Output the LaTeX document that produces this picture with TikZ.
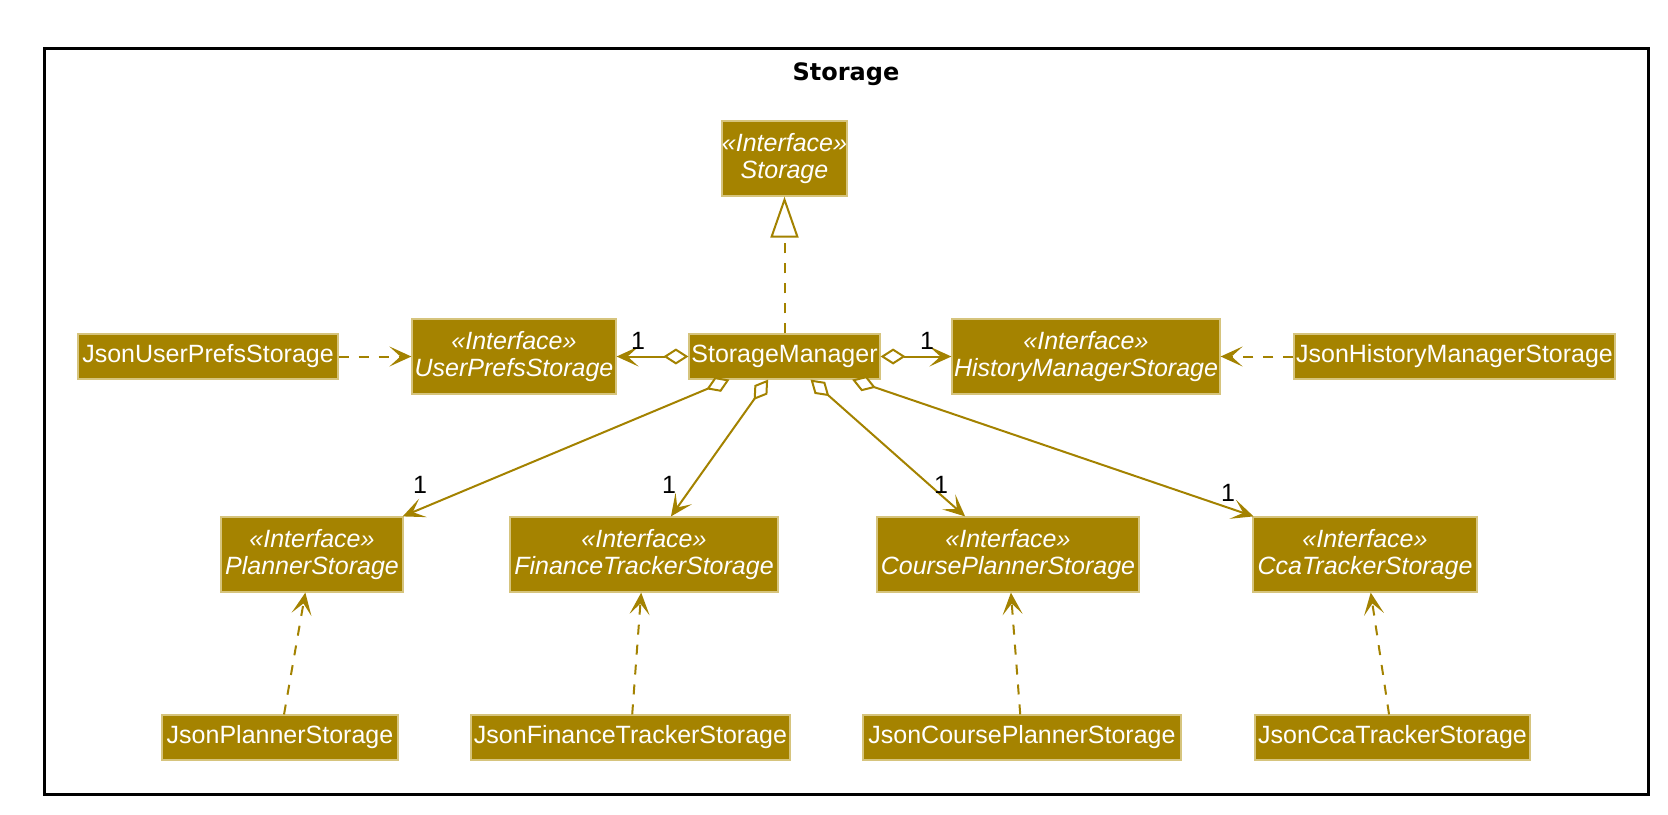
\documentclass[tikz,border=0pt]{standalone}
\usepackage{fontspec}
\setmainfont{Liberation Sans}
\newfontfamily\packagefont{DejaVu Sans}
\usepackage{tikz}
\usetikzlibrary{arrows.meta}
\definecolor{umlfill}{RGB}{165,131,0}
\definecolor{umlborder}{RGB}{214,196,125}
\definecolor{umlline}{RGB}{163,130,0}
\tikzset{
  umlbox/.style={draw=umlborder, line width=1.2pt, fill=umlfill, text=white, inner sep=0pt},
  interfacebox/.style={umlbox, align=center, minimum height=75pt, font=\fontsize{25}{27}\selectfont\itshape},
  classbox/.style={umlbox, minimum height=45pt, font=\fontsize{25}{27}\selectfont},
  multiplicity/.style={inner sep=0pt, font=\fontsize{25}{27}\selectfont},
  umlarrow/.style={draw=umlline, line width=2pt},
  aggregation/.style={umlarrow, {Diamond[fill=white, length=25pt, width=16pt]}-{Stealth[length=22pt, width=20pt, inset=11pt]}},
  implementation/.style={umlarrow, dash pattern=on 10pt off 10pt, -{Stealth[length=22pt, width=20pt, inset=11pt]}},
  realization/.style={umlarrow, dash pattern=on 10pt off 10pt, -{Triangle[fill=white, length=41pt, width=28pt]}}
}
\newcommand{\umlinterface}[4] {\node at (#1) (#2) [interfacebox, minimum width=#3pt] {«Interface»\\#4};}
\newcommand{\umlclass}[4] {\node at (#1) (#2) [classbox, minimum width=#3pt] {#4};}
\newcommand{\umlmultiplicity}[3] {\node at (#1) (#2) [multiplicity] {#3};}
\newcommand{\umlaggregation}[2] {\draw [aggregation] (#1) -- (#2);}
\newcommand{\umlimplementation}[2] {\draw [implementation] (#1) -- (#2);}
\newcommand{\umlrealization}[2] {\draw [realization] (#1) -- (#2);}

\begin{document}
\begin{tikzpicture}[x=1pt, y=-1pt]
\useasboundingbox (0,0) rectangle (1668,814);
\draw [line width=3pt] (44,48) rectangle (1648,794);
\node at (846,80) (pkgtitle) [anchor=base, font=\packagefont\bfseries\fontsize{24}{26}\selectfont] {Storage};

\umlinterface {784.5,158.5} {storage} {125} {Storage};
\umlclass     {784.5,356.5} {sm}      {191} {StorageManager};
\umlinterface {514,356.5}   {ups}     {204} {UserPrefsStorage};
\umlclass     {208,356.5}   {jups}    {260} {JsonUserPrefsStorage};
\umlinterface {1086,356.5}  {hms}     {268} {HistoryManagerStorage};
\umlclass     {1454.5,356.5} {jhms}   {321} {JsonHistoryManagerStorage};

\umlinterface {312,554.5}   {ps}      {182} {PlannerStorage};
\umlinterface {644,554.5}   {fts}     {268} {FinanceTrackerStorage};
\umlinterface {1008,554.5}  {cps}     {262} {CoursePlannerStorage};
\umlinterface {1365,554.5}  {cts}     {224} {CcaTrackerStorage};

\umlclass     {280,737.5}   {jps}     {236} {JsonPlannerStorage};
\umlclass     {630.5,737.5} {jfts}    {319} {JsonFinanceTrackerStorage};
\umlclass     {1022,737.5}  {jcps}    {318} {JsonCoursePlannerStorage};
\umlclass     {1392.5,737.5} {jcts}   {275} {JsonCcaTrackerStorage};

\umlrealization{sm}{storage};
\umlaggregation{sm}{ups};
\umlaggregation{sm}{hms};
\umlaggregation{sm}{ps};
\umlaggregation{sm}{fts};
\umlaggregation{sm}{cps};
\umlaggregation{sm}{cts};
\umlimplementation{jups}{ups};
\umlimplementation{jhms}{hms};
\umlimplementation{jps}{ps};
\umlimplementation{jfts}{fts};
\umlimplementation{jcps}{cps};
\umlimplementation{jcts}{cts};

\umlmultiplicity {638,341}  {mups} {1};
\umlmultiplicity {927,341}  {mhms} {1};
\umlmultiplicity {420,485}  {mps}  {1};
\umlmultiplicity {669,485}  {mfts} {1};
\umlmultiplicity {941,485}  {mcps} {1};
\umlmultiplicity {1228,493} {mcts} {1};

\end{tikzpicture}
\end{document}
